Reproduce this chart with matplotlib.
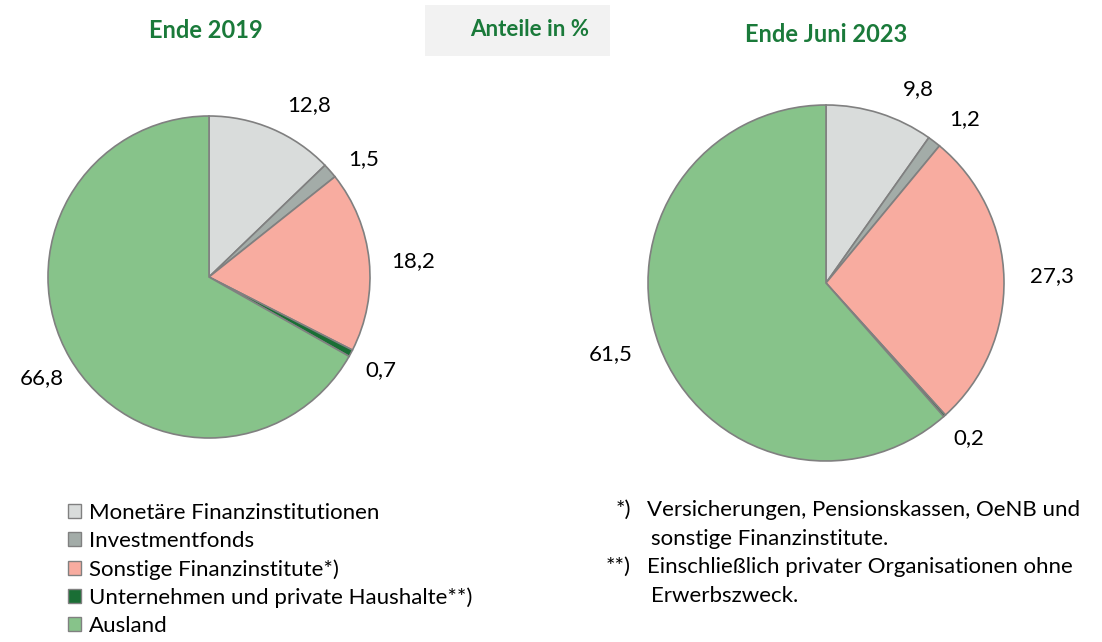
import matplotlib
matplotlib.use("Agg")
import matplotlib.pyplot as plt
from matplotlib.patches import Patch, Rectangle

plt.rcParams['font.family'] = ['Lato', 'DejaVu Sans']

categories = ["Monetäre Finanzinstitutionen", "Investmentfonds", "Sonstige Finanzinstitute*)",
              "Unternehmen und private Haushalte**)", "Ausland"]
values_2019 = [12.8, 1.5, 18.2, 0.7, 66.8]
values_2023 = [9.8, 1.2, 27.3, 0.2, 61.5]
labels_2019 = ["12,8", "1,5", "18,2", "0,7", "66,8"]
labels_2023 = ["9,8", "1,2", "27,3", "0,2", "61,5"]
titles = ["Ende 2019", "Ende Juni 2023"]
unit_title = "Anteile in %"
footnotes = [("*)", "Versicherungen, Pensionskassen, OeNB und"),
             ("", "sonstige Finanzinstitute."),
             ("**)", "Einschließlich privater Organisationen ohne"),
             ("", "Erwerbszweck.")]

colors = ["#d9dcdb", "#a3aca8", "#f8aca0", "#1a6e35", "#87c38a"]
edge = "#808080"
green = "#1a7a3a"

W, H = 1102, 642
fig = plt.figure(figsize=(W / 100, H / 100), dpi=100)

def pie_axes(cx, cy, r):
    return fig.add_axes([(cx - r) / W, (H - cy - r) / H, 2 * r / W, 2 * r / H])

# label offsets relative to pie (in radius units)
lab_pos_2019 = [(0.62, 1.07), (0.96, 0.73), (1.27, 0.10), (1.07, -0.58), (-1.04, -0.63)]
lab_pos_2023 = [(0.52, 1.09), (0.78, 0.92), (1.27, 0.04), (0.80, -0.87), (-1.21, -0.40)]

for (cx, cy, r), vals, labs, lpos in [((209, 277, 161), values_2019, labels_2019, lab_pos_2019),
                                      ((826, 283, 178), values_2023, labels_2023, lab_pos_2023)]:
    ax = pie_axes(cx, cy, r)
    ax.pie(vals, colors=colors, startangle=90, counterclock=False, radius=1,
           wedgeprops=dict(edgecolor=edge, linewidth=1.2))
    ax.set_xlim(-1, 1)
    ax.set_ylim(-1, 1)
    ax.set_aspect('equal')
    ax.axis('off')
    for lab, (x, y) in zip(labs, lpos):
        ax.text(x, y, lab, ha='center', va='center', fontsize=16, color='black', clip_on=False)

# titles
fig.text(206 / W, 1 - 31 / H, titles[0], ha='center', va='center', fontsize=17,
         fontweight='bold', color=green)
fig.text(826 / W, 1 - 34 / H, titles[1], ha='center', va='center', fontsize=17,
         fontweight='bold', color=green)
fig.patches.append(Rectangle((425 / W, 1 - 56 / H), 185 / W, 51 / H, transform=fig.transFigure,
                             facecolor="#f2f2f2", edgecolor='none', zorder=0))
fig.text(530 / W, 1 - 30 / H, unit_title, ha='center', va='center', fontsize=16,
         fontweight='bold', color=green)

# legend
handles = [Patch(facecolor=c, edgecolor=edge, linewidth=1.0) for c in colors]
fig.legend(handles, categories, loc='upper left', bbox_to_anchor=(68 / W, 1 - 503 / H),
           frameon=False, fontsize=16, handlelength=0.6, handleheight=0.6,
           handletextpad=0.36, labelspacing=0.36, borderpad=0, borderaxespad=0)

# footnotes
ys = [510, 539, 567, 596]
for (mark, txt), y in zip(footnotes, ys):
    if mark:
        fig.text(631 / W, 1 - y / H, mark, ha='right', va='center', fontsize=16)
        fig.text(647 / W, 1 - y / H, txt, ha='left', va='center', fontsize=16)
    else:
        fig.text(651 / W, 1 - y / H, txt, ha='left', va='center', fontsize=16)

fig.savefig("out.png", dpi=100)
